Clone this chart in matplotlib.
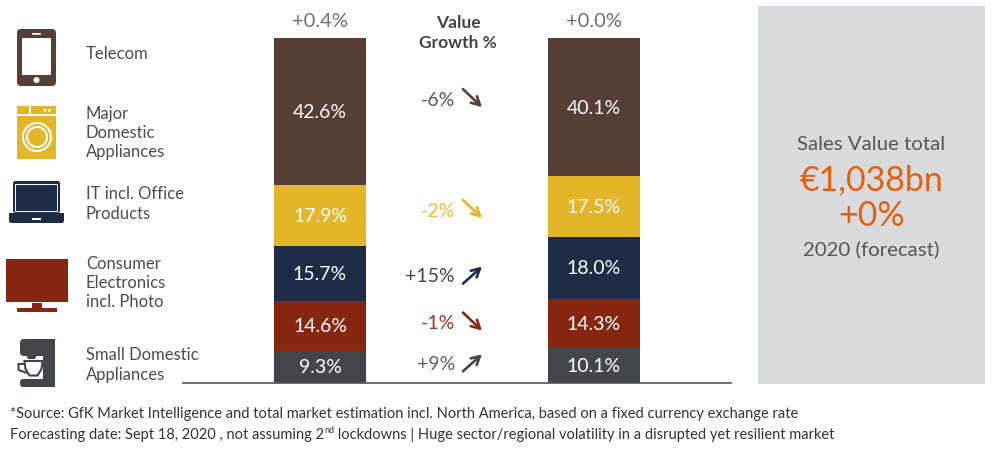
import matplotlib
matplotlib.use("Agg")
import matplotlib.pyplot as plt
import matplotlib.transforms as mtransforms
from matplotlib.patches import FancyBboxPatch, Rectangle, Circle, Polygon

plt.rcParams['font.family'] = ['Lato', 'DejaVu Sans']

# ---------------- data ----------------
categories = ['Telecom', 'Major\nDomestic\nAppliances', 'IT incl. Office\nProducts',
              'Consumer\nElectronics\nincl. Photo', 'Small Domestic\nAppliances']
share_2019 = [42.6, 17.9, 15.7, 14.6, 9.3]
share_2020 = [40.1, 17.5, 18.0, 14.3, 10.1]
growth = [-6, -2, 15, -1, 9]
total_growth = [0.4, 0.0]
total_value_label = '€1,038bn'
total_value_growth = '+0%'

# ---------------- style ----------------
colors = ['#553F36', '#E2B628', '#1F2C47', '#872712', '#43474C']
growth_colors = ['#6B5248', '#E8BE3A', '#3A4560', '#9A3A25', '#5E6266']
text_gray = '#4D4D4D'
panel_color = '#D9DADC'
orange = '#E4600F'

W, H = 998, 452
fig = plt.figure(figsize=(W / 100, H / 100), dpi=100)
fig.patch.set_facecolor('white')

# overlay axes in pixel coordinates (for icons, texts, panel)
ov = fig.add_axes([0, 0, 1, 1])
ov.set_xlim(0, W)
ov.set_ylim(H, 0)
ov.axis('off')

# bar axes
ax = fig.add_axes([183 / W, 68 / H, 548 / W, 345 / H])
ax.set_xlim(-0.5, 1.5)
ax.set_ylim(0, 100)
for s in ['top', 'right', 'left']:
    ax.spines[s].set_visible(False)
ax.spines['bottom'].set_color('#555555')
ax.spines['bottom'].set_linewidth(1.2)
ax.set_xticks([])
ax.set_yticks([])
ax.patch.set_alpha(0)

xpos = [0, 1]
bar_w = 0.335
series = [share_2019, share_2020]
n = len(categories)
centers = [[0] * n, [0] * n]
for bi, vals in enumerate(series):
    bottom = 0.0
    for ci in reversed(range(n)):
        v = vals[ci]
        ax.bar(xpos[bi], v, bar_w, bottom=bottom, color=colors[ci], linewidth=0)
        centers[bi][ci] = bottom + v / 2
        ax.text(xpos[bi], bottom + v / 2, f'{v:.1f}%', ha='center', va='center',
                color='white', fontsize=14)
        bottom += v
    ax.annotate(f'{total_growth[bi]:+.1f}%', xy=(xpos[bi], bottom), xytext=(0, 9),
                textcoords='offset pixels', ha='center', va='bottom',
                fontsize=14.5, color='#6E6E6E',
                annotation_clip=False)

# growth labels + arrows
nudges = [10, 1, -5, 2, 3]
for ci in range(n):
    y = (centers[0][ci] + centers[1][ci]) / 2
    g = growth[ci]
    ax.annotate(f'{g:+d}%', xy=(0.5, y), xytext=(-2, nudges[ci]),
                textcoords='offset pixels', ha='right', va='center',
                fontsize=14, color=growth_colors[ci],
                annotation_clip=False)
    if g < 0:
        start, end = (6, nudges[ci] + 10), (25, nudges[ci] - 8)
    else:
        start, end = (6, nudges[ci] - 8), (25, nudges[ci] + 9)
    t0 = mtransforms.offset_copy(ax.transData, fig=fig, x=start[0], y=start[1], units='dots')
    t1 = mtransforms.offset_copy(ax.transData, fig=fig, x=end[0], y=end[1], units='dots')
    ax.annotate('', xy=(0.5, y), xycoords=t1, xytext=(0.5, y), textcoords=t0,
                annotation_clip=False,
                arrowprops=dict(arrowstyle='->,head_length=0.6,head_width=0.32',
                                color=colors[ci], lw=1.9, shrinkA=0, shrinkB=0))

# header
ov.text(458, 33, 'Value\nGrowth %', ha='center', va='center', fontsize=12.5,
        color='#444444', fontweight='bold', linespacing=1.3)

# left category labels
label_y = [54, 133, 204, 283, 365]
for ci in range(n):
    ov.text(86, label_y[ci], categories[ci], ha='left', va='center', fontsize=12,
            color=text_gray, linespacing=1.25)

# ---------------- icons ----------------
# phone
ov.add_patch(FancyBboxPatch((17, 30), 39, 57, boxstyle='round,pad=0,rounding_size=4',
                            fc=colors[0], ec='none'))
ov.add_patch(Rectangle((22, 39), 29, 37, fc='white', ec='none'))
ov.add_patch(FancyBboxPatch((32, 34), 9, 1.8, boxstyle='round,pad=0,rounding_size=0.9',
                            fc='white', ec='none'))
ov.add_patch(Circle((36.5, 81), 3, fc='white', ec='none'))
# washer
ov.add_patch(Rectangle((17, 107), 39, 53, fc=colors[1], ec='none'))
ov.add_patch(Rectangle((17, 115), 39, 1.6, fc='white', ec='none'))
ov.add_patch(Rectangle((29.3, 107), 1.6, 8, fc='white', ec='none'))
ov.add_patch(Circle((45, 111.3), 1.4, fc='white', ec='none'))
ov.add_patch(Circle((49.5, 111.3), 1.4, fc='white', ec='none'))
ov.add_patch(Circle((37, 138), 14, fill=False, ec='white', lw=1.5))
ov.add_patch(Circle((37, 138), 10, fill=False, ec='white', lw=1.5))
# laptop
ov.add_patch(FancyBboxPatch((13, 182), 47, 32, boxstyle='round,pad=0,rounding_size=2.5',
                            fc=colors[2], ec='none'))
ov.add_patch(Rectangle((15.5, 184.5), 42, 27.5, fill=False, ec='white', lw=0.7))
ov.add_patch(FancyBboxPatch((9, 214), 55, 10, boxstyle='round,pad=0,rounding_size=2.5',
                            fc=colors[2], ec='none'))
ov.add_patch(Rectangle((9, 214), 55, 3, fc=colors[2], ec='none'))
ov.add_patch(Rectangle((32, 218.5), 9.5, 2, fc='white', ec='none'))
# tv
ov.add_patch(Rectangle((6, 260), 62, 43, fc=colors[3], ec='none'))
ov.add_patch(Rectangle((32, 304), 10, 6, fc=colors[3], ec='none'))
ov.add_patch(Rectangle((17, 309), 40, 4, fc=colors[3], ec='none'))
# coffee machine
ov.add_patch(FancyBboxPatch((20, 340), 35, 17, boxstyle='round,pad=0,rounding_size=4',
                            fc=colors[4], ec='none'))
ov.add_patch(Rectangle((43, 340), 12, 48, fc=colors[4], ec='none'))
ov.add_patch(FancyBboxPatch((20, 380), 35, 8, boxstyle='round,pad=0,rounding_size=3',
                            fc=colors[4], ec='none'))
ov.add_patch(Polygon([(26, 356), (37, 356), (35, 360), (28, 360)], fc=colors[4], ec='none'))
ov.add_patch(Polygon([(24.5, 362), (42.5, 362), (41.5, 370), (37.5, 376.5), (29.5, 376.5),
                      (25.5, 370)], closed=True, fc='white', ec=colors[4], lw=1.5))
ov.add_patch(Polygon([(25, 365), (18.5, 365), (18.5, 371), (27, 374)], closed=False,
                     fill=False, ec=colors[4], lw=1.5))

# ---------------- right panel ----------------
ov.add_patch(Rectangle((758, 7), 227, 378, fc=panel_color, ec='none'))
cx = 871.5
ov.text(cx, 145, 'Sales Value total', ha='center', va='center', fontsize=14.7,
        color='#555555')
ov.text(cx, 180, total_value_label, ha='center', va='center', fontsize=24.5, color=orange)
ov.text(cx, 216, total_value_growth, ha='center', va='center', fontsize=24.5, color=orange)
ov.text(cx, 249, '2020 (forecast)', ha='center', va='center', fontsize=14.7,
        color='#555555')

# ---------------- footer ----------------
ffam = ['Lato', 'DejaVu Sans']
fs = 10.5
ov.text(10, 414, '*Source: GfK Market Intelligence and total market estimation incl. North America, '
        'based on a fixed currency exchange rate', ha='left', va='center', fontsize=fs,
        color='#333333', family=ffam)
t1 = ov.text(10, 435, 'Forecasting date: Sept 18, 2020 , not assuming 2', ha='left',
             va='center', fontsize=fs, color='#333333', family=ffam)
t2 = ov.annotate('nd', xy=(1, 0.5), xycoords=t1, ha='left', va='bottom', fontsize=6.5,
                 color='#333333', family=ffam)
ov.annotate(' lockdowns | Huge sector/regional volatility in a disrupted yet resilient market',
            xy=(1, 0), xycoords=(t2, t1), ha='left', va='bottom', fontsize=fs,
            color='#333333', family=ffam)

fig.savefig('out.png', dpi=100)
